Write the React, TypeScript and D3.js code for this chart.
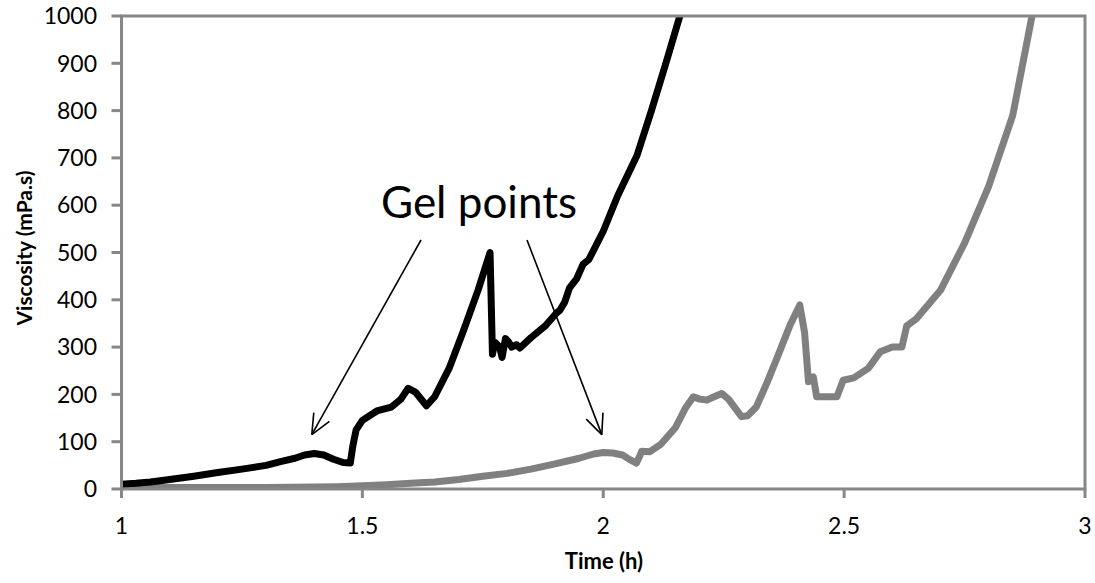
import React, { useEffect, useRef } from "react";
import * as d3 from "d3";

// black run (faster cure)
const blackTime = [1.0, 1.03, 1.06, 1.1, 1.15, 1.2, 1.25, 1.3, 1.33, 1.36, 1.38, 1.4, 1.42, 1.44, 1.46, 1.475, 1.48, 1.487, 1.5, 1.53, 1.56, 1.58, 1.595, 1.61, 1.633, 1.65, 1.68, 1.71, 1.74, 1.765, 1.77, 1.775, 1.785, 1.79, 1.797, 1.803, 1.81, 1.82, 1.827, 1.85, 1.88, 1.903, 1.91, 1.92, 1.93, 1.945, 1.958, 1.97, 2.0, 2.03, 2.07, 2.1, 2.13, 2.159, 2.17];
const blackVisc = [10, 12, 15, 20, 27, 35, 42, 50, 58, 65, 72, 75, 72, 63, 56, 55, 90, 125, 145, 165, 173, 190, 213, 205, 176, 195, 255, 335, 420, 500, 285, 310, 300, 278, 318, 312, 300, 305, 298, 320, 345, 372, 378, 395, 425, 445, 475, 485, 545, 620, 705, 800, 900, 1000, 1050];

// grey run (slower cure)
const greyTime = [1.0, 1.1, 1.2, 1.3, 1.4, 1.45, 1.5, 1.55, 1.6, 1.65, 1.7, 1.75, 1.8, 1.85, 1.9, 1.95, 1.98, 2.0, 2.02, 2.04, 2.055, 2.069, 2.075, 2.08, 2.097, 2.12, 2.15, 2.17, 2.187, 2.2, 2.215, 2.23, 2.246, 2.26, 2.287, 2.3, 2.318, 2.34, 2.36, 2.388, 2.408, 2.418, 2.426, 2.436, 2.443, 2.46, 2.485, 2.498, 2.52, 2.55, 2.575, 2.6, 2.62, 2.63, 2.65, 2.7, 2.75, 2.8, 2.85, 2.89, 2.9];
const greyVisc = [3, 3, 3, 3, 4, 5, 7, 9, 12, 15, 20, 27, 33, 42, 53, 65, 74, 77, 76, 72, 62, 55, 68, 80, 79, 95, 130, 170, 195, 190, 188, 195, 202, 190, 153, 155, 174, 225, 275, 347, 389, 330, 227, 237, 195, 195, 195, 230, 235, 255, 290, 300, 300, 345, 360, 420, 520, 640, 790, 1000, 1040];

const xTicks = [1, 1.5, 2, 2.5, 3];
const yTicks = [0, 100, 200, 300, 400, 500, 600, 700, 800, 900, 1000];

// arrows point at the gel points (time, viscosity)
const gelTime = [1.395, 1.997];
const gelVisc = [115, 115];

const FONT = "Lato, 'Open Sans', sans-serif";

function App() {
  const ref = useRef<SVGSVGElement>(null);

  useEffect(() => {
    const svg = d3.select(ref.current);
    svg.selectAll("*").remove();

    const left = 121.5, right = 1085, top = 16, bottom = 489;
    const x = d3.scaleLinear().domain([1, 3]).range([left, right]);
    const y = d3.scaleLinear().domain([0, 1000]).range([bottom, top]);

    svg.append("defs").append("clipPath").attr("id", "plotClip")
      .append("rect").attr("x", left).attr("y", top - 1)
      .attr("width", right - left).attr("height", bottom - top + 1);

    const drawSeries = (ts: number[], vs: number[], color: string) => {
      const pts = ts.map((t, i) => [x(t), y(vs[i])] as [number, number]);
      svg.append("path")
        .attr("clip-path", "url(#plotClip)")
        .attr("d", d3.line()(pts))
        .attr("fill", "none")
        .attr("stroke", color)
        .attr("stroke-width", 7)
        .attr("stroke-linejoin", "round")
        .attr("stroke-linecap", "round");
    };

    drawSeries(greyTime, greyVisc, "#808080");
    drawSeries(blackTime, blackVisc, "#000000");

    // frame
    svg.append("rect")
      .attr("x", left).attr("y", top)
      .attr("width", right - left).attr("height", bottom - top)
      .attr("fill", "none").attr("stroke", "#878787").attr("stroke-width", 3);

    // y ticks and labels
    const yg = svg.append("g");
    yTicks.forEach(v => {
      yg.append("line").attr("x1", left - 10).attr("x2", left)
        .attr("y1", y(v)).attr("y2", y(v))
        .attr("stroke", "#878787").attr("stroke-width", 3);
      yg.append("text").attr("x", 97).attr("y", y(v))
        .attr("dy", "0.36em").attr("text-anchor", "end")
        .attr("font-family", FONT).attr("font-size", 23).attr("fill", "#000")
        .text(v);
    });

    const xg = svg.append("g");
    xTicks.forEach(v => {
      xg.append("line").attr("x1", x(v)).attr("x2", x(v))
        .attr("y1", bottom).attr("y2", bottom + 9)
        .attr("stroke", "#878787").attr("stroke-width", 3);
      xg.append("text").attr("x", x(v)).attr("y", 534)
        .attr("text-anchor", "middle")
        .attr("font-family", FONT).attr("font-size", 23).attr("fill", "#000")
        .text(v);
    });

    svg.append("text")
      .attr("x", 604).attr("y", 569)
      .attr("text-anchor", "middle")
      .attr("font-family", FONT).attr("font-size", 22).attr("font-weight", "bold")
      .text("Time (h)");

    svg.append("text")
      .attr("transform", `translate(32, 248) rotate(-90)`)
      .attr("text-anchor", "middle")
      .attr("font-family", FONT).attr("font-size", 21).attr("font-weight", "bold")
      .text("Viscosity (mPa.s)");

    // annotation
    svg.append("text")
      .attr("x", 479).attr("y", 218)
      .attr("text-anchor", "middle")
      .attr("font-family", FONT).attr("font-size", 44)
      .text("Gel points");

    const starts = [[421, 240], [527, 240]];
    gelTime.forEach((t, i) => {
      const [sx, sy] = starts[i];
      const ex = x(t), ey = y(gelVisc[i]);
      const ang = Math.atan2(ey - sy, ex - sx);
      const hl = 22, ha = 0.42;
      svg.append("line")
        .attr("x1", sx).attr("y1", sy).attr("x2", ex).attr("y2", ey)
        .attr("stroke", "#000").attr("stroke-width", 1.6);
      [ang + Math.PI - ha, ang + Math.PI + ha].forEach(a => {
        svg.append("line")
          .attr("x1", ex).attr("y1", ey)
          .attr("x2", ex + hl * Math.cos(a)).attr("y2", ey + hl * Math.sin(a))
          .attr("stroke", "#000").attr("stroke-width", 1.6);
      });
    });
  }, []);

  return (
    <svg
      ref={ref}
      width={1095}
      height={583}
      style={{ position: "absolute", left: 0, top: 0, background: "#fff" }}
    />
  );
}

export default App;
